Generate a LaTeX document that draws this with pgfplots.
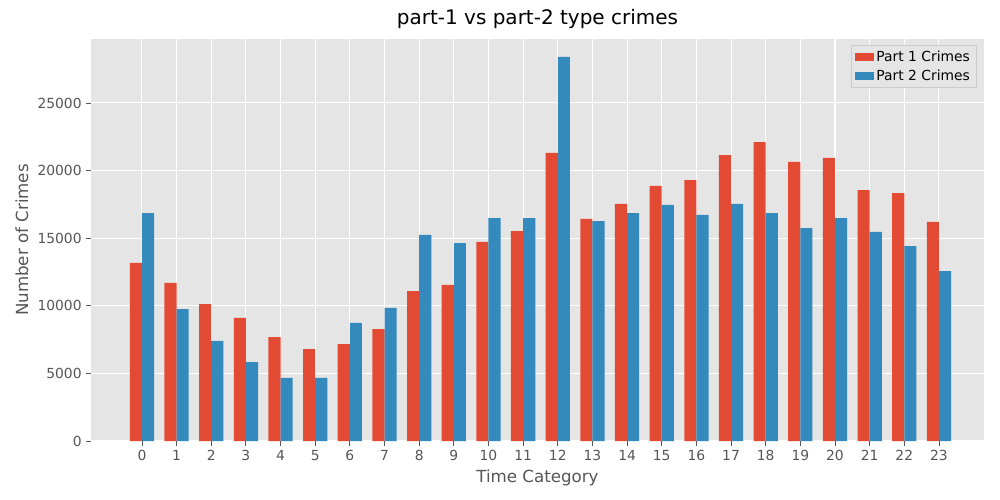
\documentclass[border=0pt]{standalone}
\usepackage{pgfplots}
\pgfplotsset{compat=1.18}
\usepackage{fontspec}
\setmainfont{DejaVu Sans}
\definecolor{pred}{HTML}{E24A33}
\definecolor{pblue}{HTML}{348ABD}
\definecolor{bgg}{HTML}{E5E5E5}
\definecolor{txtg}{HTML}{555555}
\begin{document}
\begin{tikzpicture}
\begin{axis}[
  scale only axis, width=669.75pt, height=301.5pt,
  xmin=-1.47, xmax=24.3, ymin=0, ymax=29730,
  axis background/.style={fill=bgg},
  axis line style={draw=none},
  grid=major, major grid style={white, line width=0.8pt},
  xtick={0,...,23}, ytick={0,5000,10000,15000,20000,25000},
  scaled y ticks=false,
  tick style={txtg, line width=0.6pt},
  tick align=outside, major tick length=3.5pt,
  xtick pos=bottom, ytick pos=left,
  ticklabel style={font=\fontsize{10.4}{12}\selectfont, text=txtg},
  /pgf/number format/assume math mode=true,
  /pgf/number format/1000 sep={},
  xlabel={Time Category}, ylabel={Number of Crimes},
  label style={font=\fontsize{12.5}{14}\selectfont, text=txtg},
  title={part-1 vs part-2 type crimes},
  title style={font=\fontsize{15}{17}\selectfont, yshift=-2pt},
  ybar=0pt, bar width=0.35,
  legend style={at={(0.992,0.985)}, anchor=north east, fill=bgg, draw=white!80!black, font=\fontsize{10.4}{12}\selectfont, row sep=1pt},
  legend cell align=left,
  legend image code/.code={\draw[#1,draw=none] (0cm,-0.1cm) rectangle (0.5cm,0.1cm);},
]
\addplot[fill=pred, draw=none, bar shift=-0.175] coordinates {
(0,13166)(1,11690)(2,10130)(3,9100)(4,7690)(5,6800)(6,7170)(7,8280)(8,11090)(9,11540)(10,14720)(11,15530)(12,21300)(13,16420)(14,17530)(15,18860)(16,19300)(17,21150)(18,22110)(19,20640)(20,20930)(21,18560)(22,18340)(23,16200)};
\addplot[fill=pblue, draw=none, bar shift=0.175] coordinates {
(0,16860)(1,9760)(2,7400)(3,5840)(4,4660)(5,4660)(6,8730)(7,9840)(8,15240)(9,14640)(10,16490)(11,16490)(12,28400)(13,16270)(14,16860)(15,17460)(16,16720)(17,17530)(18,16860)(19,15750)(20,16490)(21,15460)(22,14420)(23,12570)};
\legend{Part 1 Crimes, Part 2 Crimes}
\end{axis}
\useasboundingbox (-68.25pt,-44.25pt) rectangle (681.75pt,330.75pt);
\end{tikzpicture}
\end{document}
